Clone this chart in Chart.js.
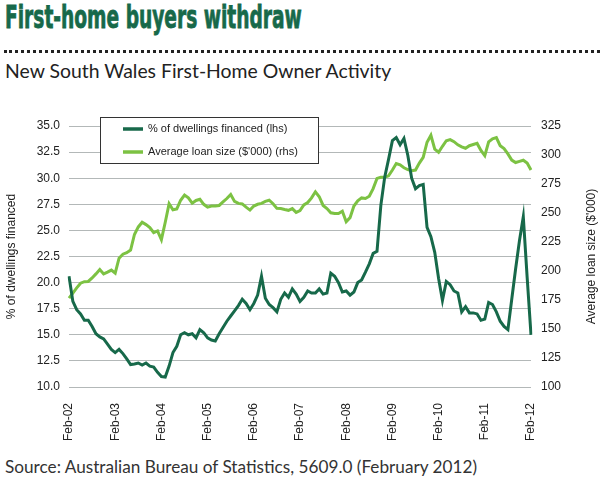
<!DOCTYPE html>
<html>
<head>
<meta charset="utf-8">
<script src="https://cdn.jsdelivr.net/npm/chart.js@4.4.1/dist/chart.umd.min.js"></script>
<style>
  html, body { margin: 0; padding: 0; background: #fff; }
  body { width: 600px; height: 485px; position: relative; overflow: hidden; }
  #title {
    position: absolute; left: 5px; top: -2px;
    font-family: "DejaVu Sans Condensed", "DejaVu Sans", sans-serif;
    font-weight: bold; font-size: 32px; color: #17694a;
    -webkit-text-stroke: 0.8px #17694a;
    white-space: nowrap; transform-origin: 0 0;
  }
  #rule {
    position: absolute; left: 4px; right: 0; top: 50px;
    border-top: 3px dotted #222;
  }
  #subtitle {
    position: absolute; left: 5px; top: 59px;
    font-family: Lato, "Open Sans", sans-serif; font-size: 19.4px; color: #222;
    white-space: nowrap;
  }
  #source {
    position: absolute; left: 5px; top: 456px;
    font-family: Lato, "Open Sans", sans-serif; font-size: 17.2px; color: #333;
    white-space: nowrap;
  }
  #wrap { position: absolute; left: 0; top: 95px; width: 600px; height: 360px; }
</style>
</head>
<body>
<div id="title">First-home buyers withdraw</div>
<div id="rule"></div>
<div id="subtitle">New South Wales First-Home Owner Activity</div>
<div id="wrap"><canvas id="chart"></canvas></div>
<div id="source">Source: Australian Bureau of Statistics, 5609.0 (February 2012)</div>

<script>
// squeeze the heading to the condensed width of the original
const titleEl = document.getElementById('title');
titleEl.style.transform = 'scaleX(' + (297 / titleEl.offsetWidth) + ')';

// monthly, Feb-02 .. Feb-12
const monthNames = ['Jan', 'Feb', 'Mar', 'Apr', 'May', 'Jun', 'Jul', 'Aug', 'Sep', 'Oct', 'Nov', 'Dec'];
const labels = [];
for (let k = 0; k <= 120; k++) {
  const m = (1 + k) % 12;
  const y = 2 + Math.floor((1 + k) / 12);
  labels.push(monthNames[m] + '-' + String(y).padStart(2, '0'));
}

// % of dwellings financed (lhs)
const dwellingsFinanced = [
  20.6, 18.2, 17.4, 17.0, 16.4, 16.4, 15.8, 15.1, 14.8, 14.6, 14.1, 13.6,
  13.3, 13.6, 13.2, 12.7, 12.15, 12.2, 12.3, 12.1, 12.3, 12.0, 11.9, 11.4,
  11.0, 10.95, 12.0, 13.3, 13.9, 15.0, 15.2, 15.0, 15.1, 14.7, 15.5, 15.2,
  14.7, 14.5, 14.4, 15.1, 15.7, 16.3, 16.8, 17.3, 17.8, 18.4, 18.0, 17.4,
  18.0, 18.8, 20.6, 18.5, 17.9, 17.6, 17.2, 18.4, 19.0, 18.6, 19.4, 18.9,
  18.2, 18.6, 19.2, 19.0, 19.0, 19.4, 18.9, 19.0, 20.9, 20.6, 20.0, 19.1,
  19.2, 18.8, 19.1, 20.0, 20.25, 21.0, 21.8, 22.8, 23.0, 27.4, 30.1, 31.8,
  33.6, 33.9, 33.2, 33.8, 32.2, 30.0, 29.0, 29.3, 29.4, 25.3, 24.4, 22.9,
  20.4, 18.3, 20.1, 19.8, 19.2, 19.0, 17.2, 17.7, 17.1, 17.1, 17.0, 16.4,
  16.5, 18.1, 17.9, 17.2, 16.3, 15.8, 15.5, 18.4, 21.3, 24.0, 26.3, 20.5,
  15.0
];

// Average loan size ($'000) (rhs)
const avgLoanSize = [
  176.6, 181, 185.5, 189.5, 190.8, 191, 194, 197.5, 201.3, 197.5, 199, 200.8,
  198.1, 211, 214.5, 215.8, 218, 231.5, 238, 242, 240, 237.5, 233, 234.5,
  227, 242, 258, 252.8, 253.5, 261, 265.5, 263, 258.5, 260.8, 261.8, 257.5,
  255, 256, 256, 256.5, 259.5, 262.5, 266, 260, 258.3, 257.8, 255, 252.5,
  256, 257.5, 258.3, 260, 261, 258, 254, 253.8, 253, 252.3, 253.8, 250.5,
  252, 257, 259, 263, 268.3, 264, 256.5, 253.8, 250.2, 249.5, 249.5, 251.5,
  242.5, 246, 256, 260.5, 263, 262.5, 264.5, 271, 279.8, 280.8, 280.8, 282,
  287, 292.7, 291.5, 289, 287.5, 286.5, 287, 293, 298, 311, 317, 305,
  302.4, 307.5, 312.3, 313.3, 311.5, 308.8, 307, 305.8, 308, 309, 310, 304,
  299.5, 311.3, 314, 315, 308, 305.5, 301, 295.6, 293.5, 294.5, 295.5, 293,
  287
];

const darkGreen = '#17694a';
const lightGreen = '#7cc243';
const rightTitle = "Average loan size ($'000)";

Chart.defaults.font.family = '"Liberation Sans", Arial, sans-serif';
Chart.defaults.font.size = 12;
Chart.defaults.color = '#222';

// legend drawn inside the plot, boxed; right axis title reading bottom-up
const boxLegend = {
  id: 'boxLegend',
  afterDraw(chart) {
    const ctx = chart.ctx;
    const x = 100, y = 22, w = 218, h = 46;
    ctx.save();
    ctx.fillStyle = '#fff';
    ctx.fillRect(x, y, w, h);
    ctx.strokeStyle = '#333';
    ctx.lineWidth = 1;
    ctx.strokeRect(x + 0.5, y + 0.5, w, h);
    ctx.font = '11px "Liberation Sans", Arial, sans-serif';
    ctx.textBaseline = 'middle';
    chart.data.datasets.forEach((ds, i) => {
      const ly = y + 12 + i * 23;
      ctx.strokeStyle = ds.borderColor;
      ctx.lineWidth = 3.5;
      ctx.beginPath();
      ctx.moveTo(x + 23, ly);
      ctx.lineTo(x + 43, ly);
      ctx.stroke();
      ctx.fillStyle = '#222';
      ctx.fillText(ds.label, x + 48, ly);
    });

    const area = chart.chartArea;
    ctx.translate(chart.width - 8, (area.top + area.bottom) / 2);
    ctx.rotate(-Math.PI / 2);
    ctx.font = '12px "Liberation Sans", Arial, sans-serif';
    ctx.textAlign = 'center';
    ctx.fillText(rightTitle, 0, 0);
    ctx.restore();
  }
};

new Chart(document.getElementById('chart'), {
  type: 'line',
  data: {
    labels: labels,
    datasets: [
      {
        label: '% of dwellings financed (lhs)',
        data: dwellingsFinanced,
        yAxisID: 'y',
        borderColor: darkGreen,
        borderWidth: 3,
        pointRadius: 0,
        tension: 0
      },
      {
        label: "Average loan size ($'000) (rhs)",
        data: avgLoanSize,
        yAxisID: 'y1',
        borderColor: lightGreen,
        borderWidth: 3,
        pointRadius: 0,
        tension: 0
      }
    ]
  },
  options: {
    responsive: true,
    maintainAspectRatio: false,
    animation: false,
    layout: { padding: { top: 31, left: 0, right: 0, bottom: 0 } },
    plugins: {
      legend: { display: false },
      tooltip: { enabled: false }
    },
    scales: {
      x: {
        offset: false,
        grid: { display: false },
        border: { display: false },
        ticks: {
          autoSkip: false,
          maxRotation: 90,
          minRotation: 90,
          padding: 8,
          callback: function (value) {
            const l = this.getLabelForValue(value);
            return l.startsWith('Feb') ? l : null;
          }
        },
        afterFit: (scale) => { scale.height = 68; }
      },
      y: {
        position: 'left',
        min: 10,
        max: 35,
        border: { display: false },
        grid: { color: '#b3b8b8', drawTicks: false },
        ticks: {
          stepSize: 2.5,
          padding: 9,
          callback: (v) => v.toFixed(1)
        },
        title: {
          display: true,
          text: '% of dwellings financed',
          padding: { top: 4, bottom: 0 }
        },
        afterFit: (scale) => { scale.width = 69; }
      },
      y1: {
        position: 'right',
        min: 100,
        max: 325,
        border: { display: false },
        grid: { drawOnChartArea: false, drawTicks: false },
        ticks: { stepSize: 25, padding: 10 },
        afterFit: (scale) => { scale.width = 69; }
      }
    }
  },
  plugins: [boxLegend]
});
</script>
</body>
</html>
